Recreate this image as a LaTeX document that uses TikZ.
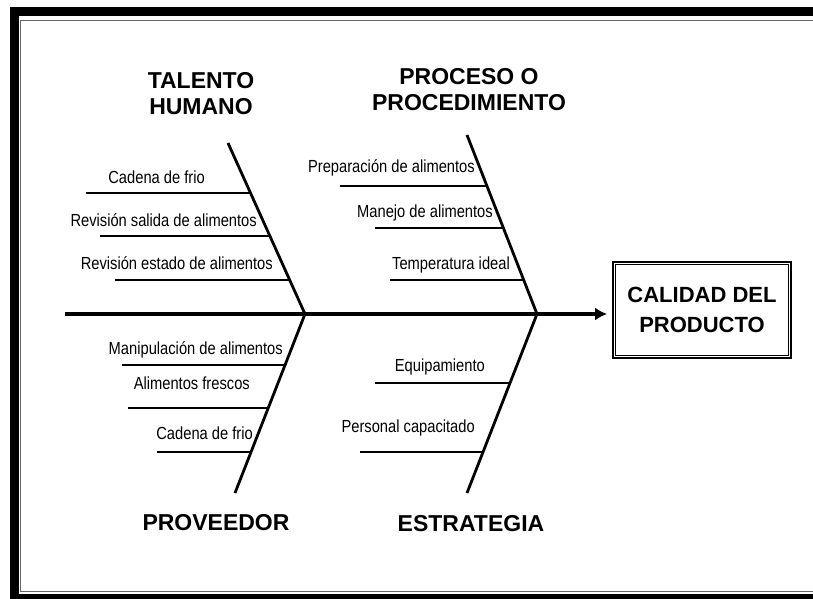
\documentclass[tikz,border=0pt]{standalone}
\usepackage{fontspec}
\setmainfont{Liberation Sans}
\newfontfamily\narrowfont[FakeStretch=0.84]{Liberation Sans}
\usetikzlibrary{arrows.meta, calc}

\begin{document}
\begin{tikzpicture}[
    x=1pt, y=-1pt,
    bone/.style={line width=2.8pt},
    rib/.style={line width=2.6pt},
    cause/.style={font=\fontsize{23}{26}\selectfont\bfseries, align=center},
    item/.style={font=\narrowfont\fontsize{17.5}{20}\selectfont, anchor=base east, inner sep=0pt},
    effect/.style={draw, line width=1.8pt, minimum width=178pt, minimum height=96pt, font=\fontsize{22}{30}\selectfont\bfseries, align=center},
]
    \useasboundingbox (0,0) rectangle (813,599);
    % Frame
    \draw[line width=9pt] (813,11.5) -- (14,11.5) -- (14,598.5) -- (813,598.5);
    \draw[line width=0.8pt, black!60] (813,20) -- (20.5,20) -- (20.5,591) -- (813,591);

    % Effect and spine
    \node[effect] (effect) at (702,310) {CALIDAD DEL\\PRODUCTO};
    \draw[line width=0.9pt] ([shift={(3.5pt,-3.5pt)}]effect.north west) rectangle ([shift={(-3.5pt,3.5pt)}]effect.south east);
    \coordinate (tail) at (65,314);
    \draw[line width=4pt, -{Latex[length=12pt,width=13pt]}, shorten >=5pt] (tail) -- (tail -| effect.west);

    % Bones
    \coordinate (th) at (228,143);
    \coordinate (pc) at (467,135);
    \coordinate (pv) at (235,493);
    \coordinate (es) at (467,493);
    \coordinate (j1) at (305,314);
    \coordinate (j2) at (537,314);
    \draw[bone] (th) -- (j1) -- (pv);
    \draw[bone] (pc) -- (j2) -- (es);

    % Ribs
    \foreach \t/\l in {0.292/164, 0.544/170, 0.801/175}
        \draw[rib] ($(th)!\t!(j1)$) -- ++(-\l,0);
    \foreach \t/\l in {0.285/147, 0.520/128, 0.810/134}
        \draw[rib] ($(pc)!\t!(j2)$) -- ++(-\l,0);
    \foreach \t/\l in {0.285/163, 0.525/140, 0.771/94}
        \draw[rib] ($(j1)!\t!(pv)$) -- ++(-\l,0);
    \foreach \t/\l in {0.385/135, 0.771/123}
        \draw[rib] ($(j2)!\t!(es)$) -- ++(-\l,0);

    % Causes
    \node[cause] (talento) at (201,93.5) {TALENTO\\HUMANO};
    \node[cause] (proceso) at (469,89.5) {PROCESO O\\PROCEDIMIENTO};
    \node[cause] (proveedor) at (216,523) {PROVEEDOR};
    \node[cause] (estrategia) at (471,524) {ESTRATEGIA};

    % Talento humano
    \node[item] (th1) at (205,183) {Cadena de frio};
    \node[item] (th2) at (257,226) {Revisión salida de alimentos};
    \node[item] (th3) at (273,269) {Revisión estado de alimentos};

    % Proceso o procedimiento
    \node[item] (pc1) at (475,172) {Preparación de alimentos};
    \node[item] (pc2) at (493,217) {Manejo de alimentos};
    \node[item] (pc3) at (510,269) {Temperatura ideal};

    % Proveedor
    \node[item] (pv1) at (283,354) {Manipulación de alimentos};
    \node[item] (pv2) at (250,389) {Alimentos frescos};
    \node[item] (pv3) at (253,439) {Cadena de frio};

    % Estrategia
    \node[item] (es1) at (485,371) {Equipamiento};
    \node[item] (es2) at (475,432) {Personal capacitado};
\end{tikzpicture}
\end{document}
